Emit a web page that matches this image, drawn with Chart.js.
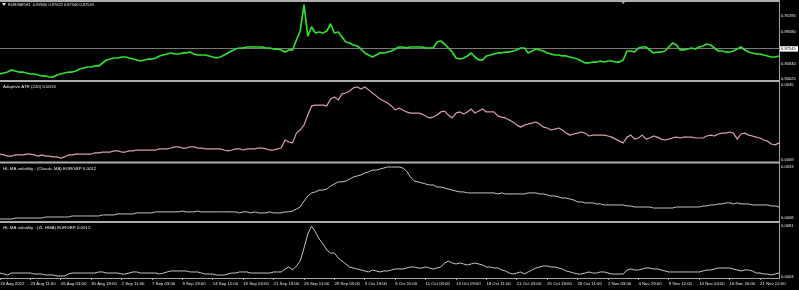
<!DOCTYPE html>
<html>
<head>
<meta charset="utf-8">
<script src="https://cdn.jsdelivr.net/npm/chart.js@4/dist/chart.umd.min.js"></script>
<style>
html,body{margin:0;padding:0;background:#000;}
canvas{display:block;}
</style>
</head>
<body>
<canvas id="c" width="799" height="290"></canvas>
<script>
// ---------- data ----------
const timeLabels = ['18 Aug 2022','23 Aug 11:00','26 Aug 03:00','30 Aug 19:00','2 Sep 11:00','7 Sep 03:00',
  '9 Sep 19:00','14 Sep 11:00','19 Sep 03:00','21 Sep 19:00','26 Sep 11:00','29 Sep 03:00','3 Oct 19:00',
  '6 Oct 11:00','11 Oct 03:00','13 Oct 19:00','18 Oct 11:00','21 Oct 03:00','25 Oct 19:00','28 Oct 11:00',
  '2 Nov 03:00','4 Nov 19:00','9 Nov 12:00','14 Nov 04:00','16 Nov 20:00','21 Nov 12:00'];
const barsPerLabel = 8;

const priceClose = [
  0.8461,0.8473,0.8484,0.8508,0.8496,0.8484,0.8484,0.8473,0.8461,0.8461,
  0.8449,0.8438,0.8438,0.8426,0.8426,0.8449,0.8461,0.8473,0.8484,0.8484,
  0.8496,0.8519,0.8531,0.8543,0.8543,0.8555,0.8555,0.8590,0.8625,0.8636,
  0.8648,0.8648,0.8660,0.8660,0.8648,0.8636,0.8625,0.8613,0.8625,0.8636,
  0.8636,0.8648,0.8672,0.8683,0.8695,0.8707,0.8695,0.8695,0.8707,0.8707,
  0.8718,0.8695,0.8683,0.8683,0.8683,0.8672,0.8660,0.8648,0.8660,0.8683,
  0.8707,0.8730,0.8753,0.8765,0.8765,0.8777,0.8777,0.8777,0.8777,0.8777,
  0.8765,0.8765,0.8753,0.8753,0.8742,0.8718,0.8742,0.8742,0.8859,0.8964,
  0.9268,0.8906,0.9011,0.8941,0.8952,0.8941,0.8964,0.9046,0.8941,0.8952,
  0.8894,0.8835,0.8824,0.8800,0.8789,0.8753,0.8707,0.8683,0.8660,0.8683,
  0.8707,0.8707,0.8718,0.8730,0.8753,0.8777,0.8777,0.8765,0.8777,0.8777,
  0.8777,0.8777,0.8765,0.8765,0.8765,0.8835,0.8847,0.8812,0.8765,0.8718,
  0.8648,0.8636,0.8648,0.8672,0.8707,0.8660,0.8625,0.8625,0.8672,0.8683,
  0.8695,0.8707,0.8707,0.8718,0.8718,0.8730,0.8742,0.8765,0.8765,0.8707,
  0.8730,0.8753,0.8742,0.8730,0.8707,0.8695,0.8683,0.8683,0.8672,0.8672,
  0.8660,0.8648,0.8636,0.8613,0.8590,0.8590,0.8601,0.8601,0.8613,0.8601,
  0.8613,0.8613,0.8601,0.8601,0.8625,0.8730,0.8730,0.8718,0.8765,0.8777,
  0.8777,0.8742,0.8707,0.8718,0.8718,0.8730,0.8777,0.8824,0.8800,0.8742,
  0.8742,0.8753,0.8765,0.8753,0.8777,0.8789,0.8812,0.8800,0.8765,0.8730,
  0.8730,0.8718,0.8718,0.8730,0.8753,0.8777,0.8742,0.8718,0.8707,0.8695,
  0.8695,0.8683,0.8672,0.8660,0.8660,0.8672
];

const adaptiveAtr = [
  0.00109,0.00106,0.00102,0.00102,0.00106,0.00106,0.00106,0.00109,0.00109,0.00106,
  0.00102,0.00106,0.00102,0.00102,0.00099,0.00099,0.00095,0.00099,0.00106,0.00106,
  0.00109,0.00109,0.00109,0.00109,0.00109,0.00113,0.00113,0.00116,0.00116,0.00116,
  0.00120,0.00120,0.00116,0.00116,0.00120,0.00120,0.00123,0.00123,0.00123,0.00123,
  0.00123,0.00123,0.00127,0.00127,0.00127,0.00130,0.00134,0.00134,0.00130,0.00130,
  0.00134,0.00134,0.00130,0.00130,0.00127,0.00127,0.00127,0.00127,0.00127,0.00123,
  0.00120,0.00123,0.00127,0.00127,0.00123,0.00127,0.00127,0.00127,0.00130,0.00130,
  0.00127,0.00123,0.00123,0.00127,0.00130,0.00158,0.00151,0.00148,0.00182,0.00193,
  0.00210,0.00245,0.00277,0.00280,0.00280,0.00280,0.00277,0.00301,0.00308,0.00298,
  0.00319,0.00322,0.00329,0.00340,0.00343,0.00336,0.00343,0.00333,0.00322,0.00312,
  0.00301,0.00294,0.00287,0.00277,0.00263,0.00270,0.00263,0.00256,0.00252,0.00252,
  0.00252,0.00249,0.00242,0.00235,0.00238,0.00245,0.00256,0.00259,0.00245,0.00235,
  0.00252,0.00256,0.00249,0.00256,0.00266,0.00252,0.00259,0.00266,0.00256,0.00256,
  0.00256,0.00242,0.00238,0.00235,0.00228,0.00221,0.00210,0.00203,0.00210,0.00214,
  0.00217,0.00221,0.00214,0.00203,0.00200,0.00193,0.00196,0.00200,0.00193,0.00182,
  0.00175,0.00179,0.00182,0.00186,0.00182,0.00172,0.00175,0.00175,0.00175,0.00175,
  0.00172,0.00168,0.00161,0.00154,0.00148,0.00168,0.00175,0.00161,0.00165,0.00175,
  0.00161,0.00165,0.00172,0.00168,0.00161,0.00158,0.00161,0.00165,0.00168,0.00165,
  0.00168,0.00168,0.00168,0.00165,0.00165,0.00165,0.00172,0.00175,0.00172,0.00179,
  0.00182,0.00182,0.00186,0.00182,0.00161,0.00179,0.00182,0.00175,0.00172,0.00168,
  0.00165,0.00158,0.00154,0.00144,0.00141,0.00148
];

const hlClassicMa = [
  0.00075,0.00075,0.00075,0.00075,0.00080,0.00080,0.00080,0.00080,0.00080,0.00080,
  0.00080,0.00080,0.00085,0.00085,0.00085,0.00085,0.00085,0.00085,0.00085,0.00090,
  0.00090,0.00090,0.00090,0.00090,0.00090,0.00090,0.00090,0.00095,0.00095,0.00095,
  0.00095,0.00100,0.00100,0.00100,0.00100,0.00100,0.00105,0.00105,0.00105,0.00105,
  0.00105,0.00110,0.00110,0.00110,0.00110,0.00110,0.00110,0.00110,0.00114,0.00110,
  0.00110,0.00110,0.00114,0.00110,0.00110,0.00110,0.00110,0.00110,0.00110,0.00110,
  0.00110,0.00110,0.00110,0.00105,0.00110,0.00110,0.00105,0.00110,0.00105,0.00105,
  0.00105,0.00110,0.00105,0.00105,0.00105,0.00110,0.00110,0.00114,0.00124,0.00134,
  0.00163,0.00188,0.00203,0.00208,0.00217,0.00217,0.00222,0.00237,0.00247,0.00257,
  0.00257,0.00261,0.00271,0.00281,0.00286,0.00291,0.00301,0.00306,0.00315,0.00315,
  0.00320,0.00325,0.00330,0.00330,0.00330,0.00330,0.00325,0.00310,0.00281,0.00261,
  0.00257,0.00252,0.00247,0.00242,0.00242,0.00232,0.00232,0.00227,0.00222,0.00217,
  0.00212,0.00208,0.00208,0.00203,0.00203,0.00203,0.00203,0.00203,0.00203,0.00203,
  0.00203,0.00198,0.00203,0.00198,0.00198,0.00198,0.00198,0.00198,0.00198,0.00203,
  0.00203,0.00203,0.00198,0.00198,0.00193,0.00188,0.00188,0.00183,0.00178,0.00178,
  0.00173,0.00168,0.00159,0.00159,0.00154,0.00154,0.00154,0.00149,0.00149,0.00144,
  0.00144,0.00144,0.00144,0.00144,0.00144,0.00139,0.00139,0.00134,0.00134,0.00134,
  0.00134,0.00134,0.00129,0.00129,0.00129,0.00129,0.00129,0.00129,0.00134,0.00134,
  0.00134,0.00134,0.00134,0.00134,0.00134,0.00139,0.00139,0.00144,0.00144,0.00149,
  0.00149,0.00154,0.00154,0.00149,0.00154,0.00149,0.00149,0.00149,0.00144,0.00144,
  0.00144,0.00144,0.00144,0.00139,0.00139,0.00134
];

const hlZlHma = [
  0.00090,0.00075,0.00060,0.00090,0.00090,0.00090,0.00090,0.00090,0.00090,0.00075,
  0.00075,0.00075,0.00060,0.00060,0.00060,0.00045,0.00045,0.00045,0.00075,0.00090,
  0.00090,0.00090,0.00090,0.00090,0.00090,0.00090,0.00106,0.00106,0.00090,0.00090,
  0.00090,0.00090,0.00075,0.00075,0.00090,0.00106,0.00106,0.00090,0.00090,0.00090,
  0.00090,0.00090,0.00075,0.00090,0.00106,0.00121,0.00121,0.00121,0.00121,0.00121,
  0.00106,0.00106,0.00106,0.00090,0.00075,0.00075,0.00075,0.00060,0.00060,0.00060,
  0.00075,0.00090,0.00090,0.00106,0.00106,0.00106,0.00090,0.00090,0.00090,0.00090,
  0.00090,0.00090,0.00106,0.00106,0.00106,0.00151,0.00181,0.00136,0.00196,0.00272,
  0.00469,0.00681,0.00802,0.00712,0.00606,0.00530,0.00439,0.00393,0.00393,0.00318,
  0.00272,0.00227,0.00181,0.00166,0.00151,0.00136,0.00121,0.00106,0.00136,0.00121,
  0.00106,0.00121,0.00121,0.00136,0.00151,0.00151,0.00151,0.00166,0.00181,0.00181,
  0.00166,0.00166,0.00181,0.00166,0.00151,0.00166,0.00181,0.00242,0.00272,0.00242,
  0.00227,0.00242,0.00227,0.00212,0.00227,0.00242,0.00227,0.00212,0.00181,0.00181,
  0.00166,0.00166,0.00136,0.00121,0.00090,0.00075,0.00090,0.00106,0.00075,0.00106,
  0.00136,0.00166,0.00181,0.00196,0.00196,0.00181,0.00181,0.00166,0.00151,0.00121,
  0.00106,0.00090,0.00075,0.00075,0.00090,0.00106,0.00090,0.00090,0.00106,0.00106,
  0.00090,0.00075,0.00075,0.00075,0.00075,0.00136,0.00151,0.00136,0.00136,0.00151,
  0.00166,0.00166,0.00151,0.00151,0.00136,0.00121,0.00106,0.00106,0.00106,0.00106,
  0.00106,0.00106,0.00106,0.00106,0.00106,0.00121,0.00136,0.00136,0.00151,0.00166,
  0.00166,0.00166,0.00166,0.00151,0.00136,0.00121,0.00136,0.00136,0.00121,0.00090,
  0.00090,0.00075,0.00075,0.00060,0.00075,0.00090
];

const priceTicks = [0.91395, 0.89580, 0.87545, 0.85840, 0.84025];
const lastPrice = 0.87545;
const atrTicks = [0.0035, 0.0009];
const classicTicks = [0.0033, 0.0008];
const zlTicks = [0.0081, 0.0003];

const paneTitles = [
  'EURGBP,H1  0.87600 0.87622 0.87540 0.87545',
  'Adaptive ATR (220) 0.0015',
  'HL MA volatility : (Classic MA) EURGBP 0.0012',
  'HL MA volatility : (ZL HMA) EURGBP 0.0012'
];

// ---------- chart ----------
const FONT = 'Liberation Sans';
const AXIS_GREY = '#a4a4a4';
const TEXT = '#e8e8e8';
const xLabels = priceClose.map((_, i) => (i % barsPerLabel === 0 && timeLabels[i / barsPerLabel]) ? timeLabels[i / barsPerLabel] : '');

const paneAxes = [
  { id: 'yP1', values: priceTicks, decimals: 5 },
  { id: 'yP2', values: atrTicks, decimals: 4 },
  { id: 'yP3', values: classicTicks, decimals: 4 },
  { id: 'yP4', values: zlTicks, decimals: 4 }
];

function yAxis(weight, min, max, ticksArr) {
  return {
    type: 'linear', position: 'right', stack: 'panes', stackWeight: weight,
    min: min, max: max, offset: false,
    afterBuildTicks(s) { s.ticks = ticksArr.map(v => ({ value: v })); },
    afterFit(s) { s.width = 20; s.paddingTop = 0; s.paddingBottom = 0; },
    grid: {
      drawOnChartArea: true, drawTicks: true, tickLength: 1,
      color: c => (c.tick && c.tick.value === lastPrice && ticksArr === priceTicks) ? '#7a7a7a' : 'rgba(0,0,0,0)',
      tickColor: AXIS_GREY, lineWidth: 1
    },
    border: { display: true, color: AXIS_GREY, width: 1 },
    ticks: { display: false, autoSkip: false }
  };
}

// right-hand value labels (MT4 style), positioned through each pane's scale
const axisLabels = {
  id: 'axisLabels',
  afterDraw(chart) {
    const ctx = chart.ctx;
    ctx.save();
    ctx.font = '4.1px ' + FONT;
    ctx.textBaseline = 'middle';
    ctx.textAlign = 'left';
    paneAxes.forEach(p => {
      const s = chart.scales[p.id];
      p.values.forEach(v => {
        const y = s.getPixelForValue(v);
        const txt = v.toFixed(p.decimals);
        if (p.id === 'yP1' && v === lastPrice) {
          ctx.fillStyle = '#ffffff';
          ctx.fillRect(s.left + 1, y - 2.7, 18, 5.4);
          ctx.fillStyle = '#000000';
        } else {
          ctx.fillStyle = TEXT;
        }
        ctx.fillText(txt, s.left + 2, y);
      });
    });
    ctx.restore();
  }
};

const paneDecor = {
  id: 'paneDecor',
  afterDraw(chart, args, opts) {
    const { ctx, chartArea: a } = chart;
    ctx.save();
    paneAxes.forEach((p, k) => {
      const s = chart.scales[p.id];
      ctx.fillStyle = '#aeaeae';
      ctx.fillRect(a.left, s.top - (k ? 1 : 0), a.right - a.left, 2);
      ctx.fillStyle = TEXT;
      ctx.textBaseline = 'middle';
      ctx.textAlign = 'left';
      ctx.font = (k === 0 ? '4px ' : '4.4px ') + FONT;
      let tx = a.left + 3;
      if (k === 0) {
        ctx.beginPath();
        ctx.moveTo(a.left + 2, s.top + 3);
        ctx.lineTo(a.left + 6, s.top + 3);
        ctx.lineTo(a.left + 4, s.top + 6);
        ctx.closePath();
        ctx.fill();
        tx = a.left + 8;
      }
      ctx.fillText(paneTitles[k], tx, s.top + (k === 0 ? 4.5 : 6));
    });
    const xs = chart.scales.x;
    const mx = xs.getPixelForValue(opts.shiftIndex);
    ctx.fillStyle = '#b0b0b0';
    ctx.beginPath();
    ctx.moveTo(mx - 2.5, a.top + 1);
    ctx.lineTo(mx + 2.5, a.top + 1);
    ctx.lineTo(mx, a.top + 4);
    ctx.closePath();
    ctx.fill();
    ctx.restore();
  }
};

const ds = (data, axis, color, width) => ({
  data, yAxisID: axis, borderColor: color, borderWidth: width,
  pointRadius: 0, tension: 0, fill: false, borderJoinStyle: 'round'
});

new Chart(document.getElementById('c'), {
  type: 'line',
  data: {
    labels: xLabels,
    datasets: [
      ds(priceClose, 'yP1', '#2fe02f', 1.7),
      ds(adaptiveAtr, 'yP2', '#dca0a8', 1.2),
      ds(hlClassicMa, 'yP3', '#c4c4c4', 1),
      ds(hlZlHma, 'yP4', '#c4c4c4', 1)
    ]
  },
  options: {
    responsive: false, animation: false, maintainAspectRatio: false,
    layout: { padding: 0 },
    plugins: {
      legend: { display: false }, tooltip: { enabled: false }, title: { display: false },
      paneDecor: { shiftIndex: 164 }
    },
    scales: {
      x: {
        type: 'category', position: 'bottom', offset: false,
        afterBuildTicks(s) { s.ticks = s.ticks.filter(t => xLabels[t.value] !== ''); },
        afterFit(s) { s.height = 12; s.paddingLeft = 0; s.paddingRight = 0; },
        grid: { display: true, drawOnChartArea: false, drawTicks: true, tickLength: 2, color: AXIS_GREY },
        border: { display: true, color: AXIS_GREY, width: 1 },
        ticks: {
          autoSkip: false, maxRotation: 0, minRotation: 0, align: 'start', padding: 1,
          color: TEXT, font: { family: FONT, size: 4.3 },
          callback(v) { return xLabels[v]; }
        }
      },
      yP1: yAxis(81, 0.83790, 0.93267, priceTicks),
      yP2: yAxis(81.5, 0.000795, 0.003639, atrTicks),
      yP3: yAxis(59.5, 0.000605, 0.003521, classicTicks),
      yP4: yAxis(56, 0.000146, 0.00863, zlTicks)
    }
  },
  plugins: [paneDecor, axisLabels]
});
</script>
</body>
</html>
